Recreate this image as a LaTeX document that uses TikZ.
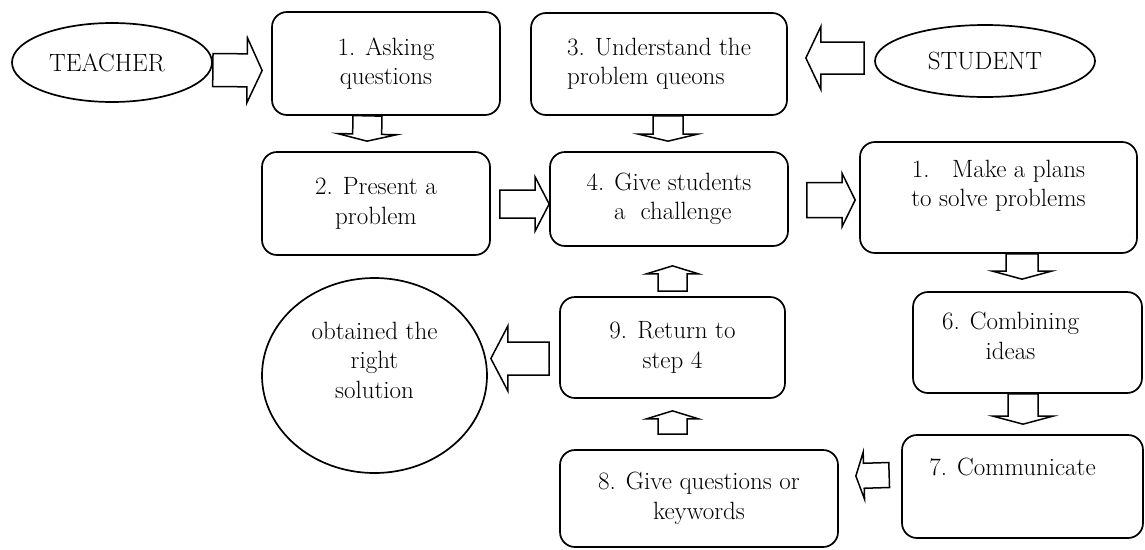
\documentclass[tikz,border=0pt]{standalone}
\usepackage{tikz}
\usetikzlibrary{shapes.geometric, calc}

\begin{document}
\begin{tikzpicture}[
    x=1pt, y=-1pt,
    font=\fontsize{25}{29.5}\selectfont,
    line width=1.7pt,
    % Node styles
    stepbox/.style={rectangle, draw, rounded corners=15pt, align=center, inner sep=0pt},
    actor/.style={ellipse, draw, align=center, inner sep=0pt},
    caption/.style={align=center, inner sep=0pt},
    % Block arrow sizes (half widths)
    shaftwd/.store in=\shaftwd, headwd/.store in=\headwd, headlen/.store in=\headlen,
    shaftwd=15pt, headwd=30pt, headlen=8pt,
    fat/.style={draw, line width=1.5pt, line join=miter, to path={
        ($(\tikztostart)!\shaftwd!90:(\tikztotarget)$)
        -- ($($(\tikztotarget)!\headlen!(\tikztostart)$)!\shaftwd!-90:(\tikztostart)$)
        -- ($($(\tikztotarget)!\headlen!(\tikztostart)$)!\headwd!-90:(\tikztostart)$)
        -- (\tikztotarget)
        -- ($($(\tikztotarget)!\headlen!(\tikztostart)$)!\headwd!90:(\tikztostart)$)
        -- ($($(\tikztotarget)!\headlen!(\tikztostart)$)!\shaftwd!90:(\tikztostart)$)
        -- ($(\tikztostart)!\shaftwd!-90:(\tikztotarget)$)
        -- cycle}},
]
\useasboundingbox (0,0) rectangle (1145,549);

% Teacher and student
\node[actor, minimum width=200pt, minimum height=79pt] (teacher) at (112, 62.5) {};
\node[caption] (teachert) at ([xshift=-5pt]teacher.center) {TEACHER};
\node[actor, minimum width=220pt, minimum height=72pt] (student) at (985, 61) {STUDENT};

% Steps, top rows
\node[stepbox, minimum width=228pt, minimum height=103pt] (b1) at (386, 63.5) {1. Asking\\questions};
\node[stepbox, minimum width=256pt, minimum height=102pt, align=left] (b3) at (659, 64) {3. Understand the\\problem queons};
\node[stepbox, minimum width=228pt, minimum height=103pt] (b2) at (376, 203.5) {2. Present a\\problem};
\node[stepbox, minimum width=238pt, minimum height=94pt] (b4) at (669, 199) {4. Give students\\\ a\ \ challenge};
\node[stepbox, minimum width=277pt, minimum height=111pt] (b5) at (998.5, 197.5) {};
\node[caption] (b5t) at ([yshift=11.5pt]b5.center) {1.\hspace{0.9em}Make a plans\\to solve problems};

% Steps, right column
\node[stepbox, minimum width=229pt, minimum height=101pt] (b6) at (1027.5, 342.5) {};
\node[caption] (b6t) at ([xshift=-17pt, yshift=6.5pt]b6.center) {6. Combining\\ideas};
\node[stepbox, minimum width=241pt, minimum height=103pt] (b7) at (1022.5, 486.5) {};
\node[caption] (b7t) at ([xshift=-10pt, yshift=19.5pt]b7.center) {7. Communicate};

% Steps, back to the middle
\node[stepbox, minimum width=278pt, minimum height=97pt] (b8) at (699, 498.5) {8. Give questions or\\keywords};
\node[stepbox, minimum width=225pt, minimum height=101pt] (b9) at (672.5, 347.5) {9. Return to\\step 4};
\node[actor, minimum width=225pt, minimum height=195pt] (goal) at (374.5, 375.5) {};
\node[caption] (goalt) at ([yshift=15.5pt]goal.center) {obtained the\\right\\solution};

% Block arrows
\draw[fat, shaftwd=16.5pt, headwd=32.5pt, headlen=15pt] ([yshift=-7.5pt]teacher.east) to ([xshift=-9pt, yshift=-7pt]b1.west);
\draw[fat, shaftwd=16pt, headwd=31.5pt, headlen=15pt] ([xshift=-10pt, yshift=3pt]student.west) to ([xshift=18pt, yshift=6pt]b3.east);
\draw[fat, shaftwd=14.5pt, headwd=29.5pt, headlen=7pt] ([xshift=-18.5pt]b1.south) to ([xshift=-9pt, yshift=10pt]b2.north);
\draw[fat, shaftwd=15pt, headwd=29.5pt, headlen=7pt] ([xshift=9pt]b3.south) to ([xshift=-1pt, yshift=10pt]b4.north);
\draw[fat, shaftwd=14pt, headwd=27pt, headlen=14pt] ([xshift=9pt, yshift=-0.5pt]b2.east) to ([yshift=-5pt]b4.west);
\draw[fat, shaftwd=17.5pt, headwd=26.5pt, headlen=13pt] ([xshift=18pt, yshift=-1pt]b4.east) to ([xshift=-4pt, yshift=-2.5pt]b5.west);
\draw[fat, shaftwd=16pt, headwd=29.5pt] ([xshift=23.5pt]b5.south) to ([xshift=-5.5pt, yshift=12pt]b6.north);
\draw[fat, shaftwd=15pt, headwd=30pt] ([xshift=-4.5pt]b6.south) to ([xshift=0.5pt, yshift=10pt]b7.north);
\draw[fat, shaftwd=12.5pt, headwd=23.5pt] ([xshift=-12pt, yshift=11.5pt]b7.west) to ([xshift=17pt, yshift=22.5pt]b8.east);
\draw[fat, shaftwd=14.5pt, headwd=26pt] ([xshift=-26.5pt, yshift=15pt]b8.north) to ([yshift=-12pt]b9.south);
\draw[fat, shaftwd=14.5pt, headwd=26pt] ([yshift=5pt]b9.north) to ([xshift=3.5pt, yshift=-19pt]b4.south);
\draw[fat, shaftwd=16.5pt, headwd=32.5pt, headlen=17pt] ([xshift=-10pt, yshift=-11pt]b9.west) to ([xshift=3pt, yshift=17pt]goal.east);

\end{tikzpicture}
\end{document}
